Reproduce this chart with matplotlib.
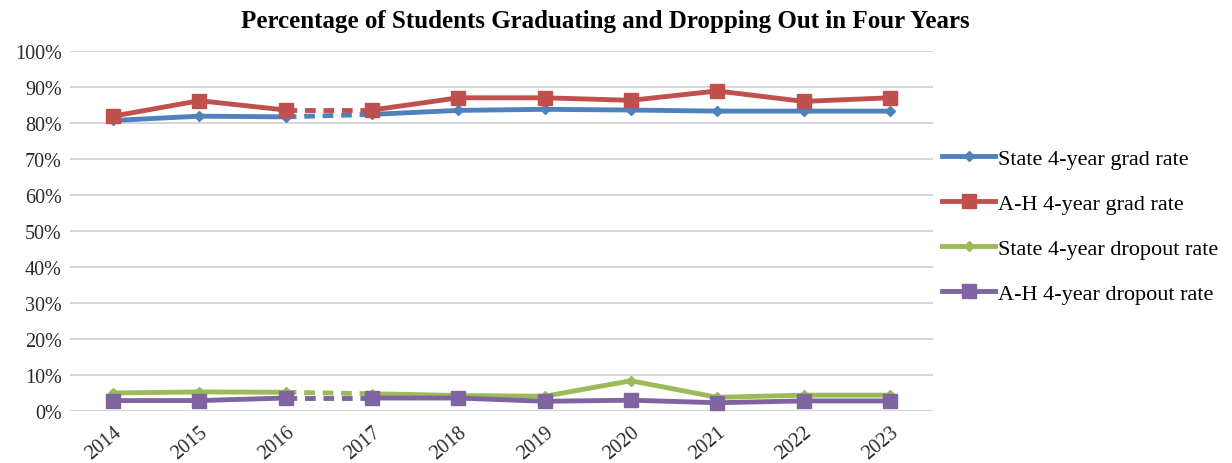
import numpy as np
import matplotlib.pyplot as plt
from matplotlib.ticker import PercentFormatter

plt.rcParams['font.family'] = ['Liberation Serif', 'DejaVu Serif']

years = ['2014', '2015', '2016', '2017', '2018', '2019', '2020', '2021', '2022', '2023']
state_grad = [80.7, 81.9, 81.7, 82.4, 83.5, 83.8, 83.6, 83.3, 83.3, 83.3]
ah_grad = [81.9, 86.2, 83.6, 83.6, 87.0, 87.0, 86.3, 88.9, 86.0, 87.0]
state_drop = [5.0, 5.3, 5.2, 4.8, 4.3, 4.1, 8.4, 3.8, 4.4, 4.4]
ah_drop = [2.9, 2.9, 3.6, 3.6, 3.6, 2.7, 3.0, 2.3, 2.8, 2.8]

labels = ['State 4-year grad rate', 'A-H 4-year grad rate',
          'State 4-year dropout rate', 'A-H 4-year dropout rate']
colors = ['#4F81BD', '#C0504D', '#9BBB59', '#8064A2']
markers = ['D', 's', 'D', 's']
msizes = [5, 10, 5, 10]

fig = plt.figure(figsize=(12.32, 4.64), dpi=100)
ax = fig.add_axes([70/1232, 52/464, 863/1232, 360/464])

x = np.arange(len(years))
gap = 2  # break between 2016 and 2017 drawn dashed
for vals, lab, c, m, ms in zip([state_grad, ah_grad, state_drop, ah_drop], labels, colors, markers, msizes):
    v = np.array(vals)
    ax.plot(x[:gap + 1], v[:gap + 1], color=c, lw=3.5, marker=m, ms=ms, label=lab, zorder=3)
    ax.plot(x[gap + 1:], v[gap + 1:], color=c, lw=3.5, marker=m, ms=ms, zorder=3)
    ax.plot(x[gap:gap + 2], v[gap:gap + 2], color=c, lw=3.5, ls=(0, (2.2, 1.6)), zorder=2)

ax.set_xlim(-0.5, len(years) - 0.5)
ax.set_ylim(0, 100)
ax.set_yticks(np.arange(0, 101, 10))
ax.yaxis.set_major_formatter(PercentFormatter(decimals=0))
ax.set_xticks(x)
ax.set_xticklabels(years, rotation=40, ha='right', rotation_mode='anchor')
ax.grid(axis='y', color='#D0D0D0', lw=1.2)
ax.set_axisbelow(True)
for s in ax.spines.values():
    s.set_visible(False)
ax.tick_params(length=0, labelsize=14.5, colors='#2a2a2a')
ax.tick_params(axis='x', pad=8)
ax.tick_params(axis='y', pad=6)

fig.suptitle('Percentage of Students Graduating and Dropping Out in Four Years',
             x=0.491, y=0.978, fontsize=18, fontweight='bold')

fig.legend(loc='upper left', bbox_to_anchor=(922/1232, 1 - 129/464), frameon=False,
           fontsize=16, handlelength=2.4, handletextpad=0.1, labelspacing=1.1)

fig.savefig('out.png', dpi=100)
